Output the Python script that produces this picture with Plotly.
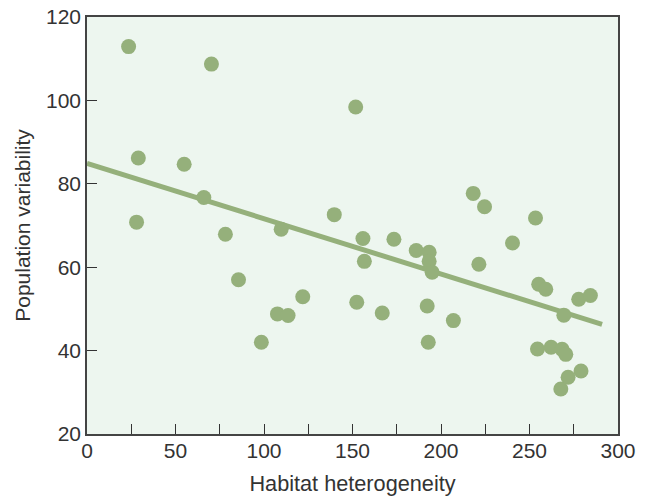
import plotly.graph_objects as go

# Data
habitat_heterogeneity = [23.5, 70.3, 29.0, 54.9, 66.0, 28.0, 78.2, 85.6, 98.5,
                         139.7, 109.7, 155.9, 173.4, 186.0, 193.3, 156.7, 193.3, 195.0,
                         121.9, 152.4, 107.6, 113.6, 166.8, 192.2, 207.0, 192.8, 151.8,
                         218.2, 224.6, 253.4, 240.4, 221.4, 255.2, 259.2, 277.8, 284.4,
                         269.4, 254.5, 262.2, 268.4, 270.5, 279.1, 271.8, 267.7]
population_variability = [112.9, 108.7, 86.2, 84.7, 76.7, 70.8, 67.9, 57.0, 42.0,
                           72.6, 69.1, 66.9, 66.7, 64.0, 63.6, 61.4, 61.4, 58.8,
                           52.9, 51.6, 48.8, 48.4, 49.0, 50.7, 47.2, 42.0, 98.4,
                           77.7, 74.5, 71.8, 65.8, 60.7, 55.9, 54.7, 52.3, 53.2,
                           48.5, 40.4, 40.8, 40.3, 39.1, 35.1, 33.6, 30.8]

trend_x = [0, 291]
trend_y = [84.9, 46.3]

x_tick_values = [0, 25, 50, 75, 100, 125, 150, 175, 200, 225, 250, 275, 300]
x_tick_labels = ["0", "", "50", "", "100", "", "150", "", "200", "", "250", "", "300"]
y_tick_values = [20, 40, 60, 80, 100, 120]

GREEN = "#95B07B"
TEXT = "#333333"
FONT = "Liberation Sans, Arial, sans-serif"

fig = go.Figure()
fig.add_trace(go.Scatter(x=trend_x, y=trend_y, mode="lines",
                         line=dict(color=GREEN, width=5), hoverinfo="skip"))
fig.add_trace(go.Scatter(x=habitat_heterogeneity, y=population_variability, mode="markers",
                         marker=dict(color=GREEN, size=15, line=dict(width=0))))

fig.update_layout(
    width=645, height=496,
    margin=dict(l=87, r=27, t=17, b=62),
    paper_bgcolor="white",
    plot_bgcolor="#EDF6EF",
    showlegend=False,
    font=dict(family=FONT, color=TEXT, size=21),
)
fig.update_xaxes(
    range=[0, 300], tickmode="array", tickvals=x_tick_values, ticktext=x_tick_labels,
    ticks="inside", ticklen=10, tickwidth=1.2, tickcolor="#333333",
    showline=True, linecolor="#444444", linewidth=1.5, mirror=True,
    showgrid=False, zeroline=False, ticklabelstandoff=-3, automargin=False,
    title=dict(text="Habitat heterogeneity", standoff=16, font=dict(size=21.7)),
    tickfont=dict(size=21, color=TEXT),
)
fig.update_yaxes(
    range=[20, 120], tickmode="array", tickvals=y_tick_values,
    ticks="inside", ticklen=10, tickwidth=1.2, tickcolor="#333333",
    showline=True, linecolor="#444444", linewidth=1.5, mirror=True,
    showgrid=False, zeroline=False, automargin=False,
    title=dict(text="Population variability", standoff=10, font=dict(size=21)),
    tickfont=dict(size=21, color=TEXT),
)

fig.write_html("out.html", config={"displayModeBar": False},
               post_script="document.body.style.margin='0';")
